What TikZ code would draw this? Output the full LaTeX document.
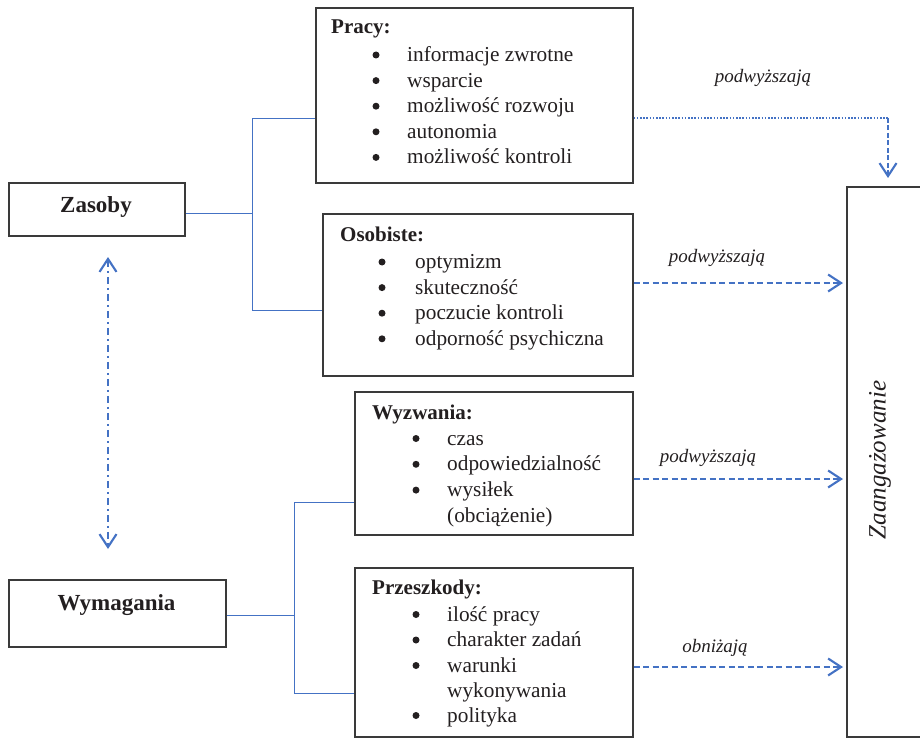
\documentclass[tikz,border=0pt]{standalone}
\usepackage{fontspec}
\setmainfont{Liberation Serif}
\usetikzlibrary{arrows.meta}
\definecolor{lineblue}{HTML}{4472C4}
\definecolor{boxgray}{HTML}{3A3A3A}
\definecolor{txt}{HTML}{231F20}
\begin{document}
\begin{tikzpicture}[x=1pt,y=-1pt,
  box/.style={draw=boxgray, line width=1.6pt, rectangle, inner sep=0pt, anchor=north west, fill=white},
  big/.style={font=\fontsize{23}{27}\selectfont\bfseries, anchor=base, inner sep=0pt, text=txt},
  ttl/.style={font=\fontsize{21}{25}\selectfont\bfseries, anchor=base west, inner sep=0pt, text=txt},
  itm/.style={font=\fontsize{21.3}{25.5}\selectfont, anchor=base west, inner sep=0pt, text=txt},
  bul/.style={circle, fill=txt, inner sep=0pt, minimum size=7pt, yshift=6.5pt},
  lbl/.style={font=\fontsize{19}{22}\selectfont\itshape, anchor=base, inner sep=0pt, text=txt},
  conn/.style={draw=lineblue, line width=1pt},
  flow/.style={draw=lineblue, line width=2.1pt, dash pattern=on 6pt off 3.5pt, -{Straight Barb[length=13pt,width=17pt,line width=2.1pt]}},
]
\useasboundingbox (0,0) rectangle (920,738);
\clip (0,0) rectangle (920,738);

% boxes
\node[box, minimum width=317pt, minimum height=175pt] (pracy) at (315,7) {};
\node[box, minimum width=310pt, minimum height=162pt] (osob) at (322,213) {};
\node[box, minimum width=278pt, minimum height=143pt] (wyzw) at (354,391) {};
\node[box, minimum width=278pt, minimum height=169pt] (przesz) at (354,567) {};
\node[box, minimum width=176pt, minimum height=53pt] (zasoby) at (8,182) {};
\node[box, minimum width=217pt, minimum height=67pt] (wymag) at (8,579) {};
\node[box, minimum width=100pt, minimum height=550pt] (zaang) at (846,186) {};

% box texts
\node[big] (zasobyT) at (96,212) {Zasoby};
\node[big] (wymagT) at (116.5,610) {Wymagania};
\node[font=\fontsize{25}{30}\selectfont\itshape, text=txt, rotate=90, inner sep=0pt] (zaangT) at (880,460) {Zaangażowanie};

% Pracy
\node[ttl] (pracyT) at (331,34) {Pracy:};
\foreach \t [count=\i] in {informacje zwrotne,wsparcie,możliwość rozwoju,autonomia,możliwość kontroli}{
  \node[bul] (pb\i) at (376,61.5+25.6*\i-25.6) {};
  \node[itm] (pi\i) at (407,61.5+25.6*\i-25.6) {\t};
}
% Osobiste
\node[ttl] (osobT) at (340,241) {Osobiste:};
\foreach \t [count=\i] in {optymizm,skuteczność,poczucie kontroli,odporność psychiczna}{
  \node[bul] (ob\i) at (382,268.5+25.6*\i-25.6) {};
  \node[itm] (oi\i) at (415,268.5+25.6*\i-25.6) {\t};
}
% Wyzwania
\node[ttl] (wyzwT) at (372,419) {Wyzwania:};
\foreach \t [count=\i] in {czas,odpowiedzialność,wysiłek}{
  \node[bul] (wb\i) at (416,445+25.8*\i-25.8) {};
  \node[itm] (wi\i) at (447,445+25.8*\i-25.8) {\t};
}
\node[itm] (wi4) at (447,522.5) {(obciążenie)};
% Przeszkody
\node[ttl] (przT) at (372,594) {Przeszkody:};
\node[bul] (rb1) at (416,621) {};
\node[itm] (ri1) at (447,621) {ilość pracy};
\node[bul] (rb2) at (416,646.5) {};
\node[itm] (ri2) at (447,646.5) {charakter zadań};
\node[bul] (rb3) at (416,672) {};
\node[itm] (ri3) at (447,672) {warunki};
\node[itm] (ri4) at (447,697) {wykonywania};
\node[bul] (rb5) at (416,722) {};
\node[itm] (ri5) at (447,722) {polityka};

% tree connectors
\coordinate (zMid) at (252,213);
\coordinate (zTop) at (252,119);
\coordinate (zBot) at (252,310);
\draw[conn] (zasoby.east |- zMid) -- (zMid);
\draw[conn] (pracy.west |- zTop) -- (zTop) -- (zBot) -- (osob.west |- zBot);
\coordinate (wMid) at (294,615);
\coordinate (wTop) at (294,502);
\coordinate (wBot) at (294,693);
\draw[conn] (wymag.east |- wMid) -- (wMid);
\draw[conn] (wyzw.west |- wTop) -- (wTop) -- (wBot) -- (przesz.west |- wBot);

% effect arrows
\coordinate (bend) at (888,118);
\draw[draw=lineblue, line width=1.4pt, dash pattern=on 1.6pt off 1.6pt] (pracy.east |- bend) -- (bend);
\draw[draw=lineblue, line width=2.1pt, dash pattern=on 5pt off 2.5pt, -{Straight Barb[length=13pt,width=17pt,line width=2.1pt]}, shorten >=8pt] (bend) -- (zaang.north -| bend);
\coordinate (a1) at (700,283);
\coordinate (a2) at (700,479);
\coordinate (a3) at (700,667);
\draw[flow, shorten >=3pt] (osob.east |- a1) -- (zaang.west |- a1);
\draw[flow, shorten >=3pt] (wyzw.east |- a2) -- (zaang.west |- a2);
\draw[flow, shorten >=3pt] (przesz.east |- a3) -- (zaang.west |- a3);

\node[lbl] (l0) at (763,83) {podwyższają};
\node[lbl] (l1) at (717,262) {podwyższają};
\node[lbl] (l2) at (708,462) {podwyższają};
\node[lbl] (l3) at (715,652) {obniżają};

% double arrow between Zasoby and Wymagania
\coordinate (dTop) at (108,257);
\coordinate (dBot) at (108,549);
\draw[draw=lineblue, line width=2.1pt, dash pattern=on 7pt off 4pt on 2pt off 4pt,
  {Straight Barb[length=13pt,width=17pt,line width=2.1pt]}-{Straight Barb[length=13pt,width=17pt,line width=2.1pt]}] (dTop) -- (dBot);
\end{tikzpicture}
\end{document}
